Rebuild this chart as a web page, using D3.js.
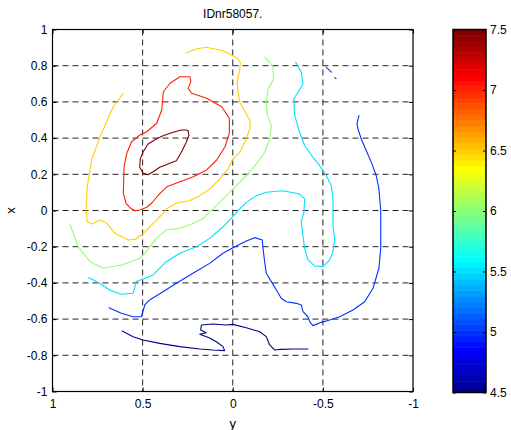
<!DOCTYPE html>
<html>
<head>
<meta charset="utf-8">
<script src="https://cdn.jsdelivr.net/npm/d3@7/dist/d3.min.js"></script>
<style>
  html, body { margin: 0; padding: 0; background: #fff; }
  svg { display: block; }
  text { font-family: "Liberation Sans", Arial, Helvetica, sans-serif; fill: #000; }
</style>
</head>
<body>
<script>
// Chart title and axis labels
const titleText = "IDnr58057.";
const xLabelText = "y";
const yLabelText = "x";

// Tick values
const yAxisTicks = [1, 0.5, 0, -0.5, -1];          // horizontal axis ("y"), reversed
const xAxisTicks = [-1, -0.8, -0.6, -0.4, -0.2, 0, 0.2, 0.4, 0.6, 0.8, 1]; // vertical axis ("x")
const colorTicks = [4.5, 5, 5.5, 6, 6.5, 7, 7.5];

// Contour levels and colour limits
const levels = [4.5, 5, 5.5, 6, 6.5, 7, 7.5];
const colorMin = 4.5, colorMax = 7.5;

// Contour polylines, each point is [y, x]
const contour45 = [
  [0.613,-0.666],[0.553,-0.697],[0.498,-0.715],[0.405,-0.734],[0.294,-0.752],[0.183,-0.765],
  [0.110,-0.771],[0.045,-0.774],[0.054,-0.752],[0.091,-0.725],[0.128,-0.705],[0.183,-0.684],
  [0.147,-0.675],[0.178,-0.660],[0.174,-0.633],[0.110,-0.627],[0.036,-0.633],[-0.001,-0.629],
  [-0.075,-0.648],[-0.150,-0.670],[-0.186,-0.697],[-0.205,-0.743],[-0.233,-0.771],[-0.269,-0.767],
  [-0.334,-0.765],[-0.417,-0.765]
];
const contour5 = [
  [-0.700,0.524],[-0.689,0.478],[-0.695,0.450],[-0.713,0.395],[-0.741,0.330],[-0.769,0.266],
  [-0.796,0.192],[-0.811,0.119],[-0.821,-0.001],[-0.821,-0.209],[-0.811,-0.319],[-0.778,-0.430],
  [-0.732,-0.504],[-0.667,-0.550],[-0.593,-0.587],[-0.538,-0.605],[-0.491,-0.618],[-0.445,-0.636],
  [-0.427,-0.614],[-0.417,-0.587],[-0.390,-0.559],[-0.380,-0.522],[-0.353,-0.513],[-0.297,-0.504],
  [-0.269,-0.485],[-0.242,-0.439],[-0.214,-0.393],[-0.186,-0.347],[-0.177,-0.283],[-0.168,-0.209],
  [-0.164,-0.163],[-0.122,-0.150],[-0.075,-0.169],[-0.001,-0.206],[0.054,-0.236],[0.128,-0.292],
  [0.221,-0.347],[0.313,-0.402],[0.387,-0.449],[0.461,-0.494],[0.488,-0.522],[0.507,-0.587],
  [0.553,-0.587],[0.618,-0.568],[0.687,-0.537]
];
const contour5Bits = [
  [[-0.519,0.791],[-0.533,0.778],[-0.547,0.764]],
  [[-0.566,0.734],[-0.573,0.729]]
];
const contour55 = [
  [-0.349,0.819],[-0.380,0.764],[-0.390,0.699],[-0.362,0.653],[-0.338,0.616],[-0.344,0.524],
  [-0.371,0.432],[-0.399,0.358],[-0.445,0.294],[-0.482,0.248],[-0.519,0.192],[-0.547,0.137],
  [-0.556,0.064],[-0.556,-0.080],[-0.566,-0.163],[-0.556,-0.228],[-0.538,-0.273],[-0.501,-0.310],
  [-0.455,-0.307],[-0.417,-0.273],[-0.399,-0.209],[-0.390,-0.145],[-0.380,-0.062],[-0.395,-0.007],
  [-0.399,0.064],[-0.371,0.091],[-0.279,0.109],[-0.186,0.101],[-0.131,0.082],[-0.075,0.045],
  [-0.029,-0.001],[-0.001,-0.034],[0.054,-0.090],[0.128,-0.154],[0.202,-0.200],[0.294,-0.236],
  [0.369,-0.283],[0.442,-0.356],[0.498,-0.378],[0.535,-0.393],[0.553,-0.457],[0.618,-0.463],
  [0.683,-0.439],[0.738,-0.402],[0.798,-0.371]
];
const contour6 = [
  [-0.177,0.846],[-0.205,0.819],[-0.223,0.791],[-0.227,0.727],[-0.196,0.671],[-0.186,0.598],
  [-0.192,0.524],[-0.214,0.469],[-0.205,0.395],[-0.177,0.322],[-0.131,0.257],[-0.075,0.192],
  [-0.020,0.137],[0.072,0.045],[0.110,0.008],[0.128,-0.007],[0.163,-0.043],[0.228,-0.075],
  [0.293,-0.098],[0.369,-0.108],[0.424,-0.154],[0.481,-0.229],[0.515,-0.264],[0.616,-0.301],
  [0.718,-0.319],[0.792,-0.283],[0.857,-0.200],[0.903,-0.075]
];
const contour65 = [
  [0.258,0.870],[0.202,0.892],[0.147,0.902],[0.054,0.883],[-0.001,0.855],[-0.020,0.846],
  [-0.042,0.819],[-0.039,0.782],[-0.024,0.708],[-0.029,0.653],[-0.039,0.598],[-0.075,0.533],
  [-0.097,0.496],[-0.094,0.450],[-0.075,0.395],[-0.039,0.322],[-0.001,0.285],[0.026,0.229],
  [0.072,0.174],[0.128,0.119],[0.183,0.082],[0.239,0.054],[0.313,0.041],[0.369,0.008],
  [0.385,-0.015],[0.441,-0.071],[0.496,-0.126],[0.542,-0.159],[0.579,-0.163],[0.653,-0.126],
  [0.699,-0.071],[0.736,-0.052],[0.783,-0.075],[0.807,-0.062],[0.814,0.003],[0.807,0.131],
  [0.783,0.279],[0.736,0.408],[0.663,0.573],[0.607,0.648]
];
const contour7 = [
  [0.348,0.703],[0.293,0.739],[0.237,0.739],[0.233,0.712],[0.247,0.675],[0.228,0.648],
  [0.145,0.620],[0.061,0.573],[0.019,0.509],[0.019,0.427],[0.043,0.352],[0.089,0.279],
  [0.145,0.224],[0.219,0.187],[0.293,0.159],[0.366,0.131],[0.404,0.095],[0.450,0.040],
  [0.477,0.018],[0.515,0.003],[0.542,-0.001],[0.566,0.012],[0.592,0.040],[0.607,0.095],
  [0.603,0.242],[0.588,0.316],[0.561,0.380],[0.515,0.417],[0.477,0.435],[0.422,0.482],
  [0.394,0.555],[0.385,0.656],[0.348,0.703]
];
const contour75 = [
  [0.248,0.441],[0.243,0.417],[0.258,0.377],[0.285,0.322],[0.313,0.275],[0.359,0.257],
  [0.405,0.239],[0.442,0.214],[0.470,0.198],[0.498,0.207],[0.516,0.239],[0.513,0.285],
  [0.498,0.322],[0.470,0.367],[0.424,0.395],[0.387,0.413],[0.331,0.432],[0.285,0.445],
  [0.258,0.445],[0.248,0.441]
];

const contourSets = [
  {level: 4.5, lines: [contour45]},
  {level: 5,   lines: [contour5, ...contour5Bits]},
  {level: 5.5, lines: [contour55]},
  {level: 6,   lines: [contour6]},
  {level: 6.5, lines: [contour65]},
  {level: 7,   lines: [contour7]},
  {level: 7.5, lines: [contour75]}
];

// MATLAB-style jet colormap with m entries
function jetMap(m) {
  const n = Math.ceil(m / 4);
  const u = [];
  for (let i = 1; i <= n; i++) u.push(i / n);
  for (let i = 1; i < n; i++) u.push(1);
  for (let i = n; i >= 1; i--) u.push(i / n);
  const off = Math.ceil(n / 2) - (m % 4 === 1 ? 1 : 0);
  const r = new Array(m).fill(0), g = new Array(m).fill(0), b = new Array(m).fill(0);
  u.forEach((val, k) => {
    const gi = off + k, ri = gi + n, bi = gi - n;
    if (gi >= 0 && gi < m) g[gi] = val;
    if (ri >= 0 && ri < m) r[ri] = val;
    if (bi >= 0 && bi < m) b[bi] = val;
  });
  return d3.range(m).map(i => d3.rgb(r[i] * 255, g[i] * 255, b[i] * 255).formatHex());
}
const cmap = jetMap(64);
function levelColor(v) {
  let idx = Math.floor((v - colorMin) / (colorMax - colorMin) * cmap.length);
  idx = Math.max(0, Math.min(cmap.length - 1, idx));
  return cmap[idx];
}

// plain tick text with an ASCII hyphen for negatives
const fmt = d => String(+(+d).toFixed(1));

const W = 511, H = 430;
const plot = {left: 52.5, right: 413, top: 29.5, bottom: 391.5};
const bar = {left: 453, right: 486, top: 29.5, bottom: 392.5};

const svg = d3.select("body").append("svg").attr("width", W).attr("height", H);

const xs = d3.scaleLinear().domain([1, -1]).range([plot.left, plot.right]);
const ys = d3.scaleLinear().domain([-1, 1]).range([plot.bottom, plot.top]);
const cs = d3.scaleLinear().domain([colorMin, colorMax]).range([bar.bottom, bar.top]);

// dashed grid
const grid = svg.append("g").attr("stroke", "#222").attr("stroke-width", 1).attr("stroke-dasharray", "6,4");
yAxisTicks.filter(t => t !== 1 && t !== -1).forEach(t => {
  grid.append("line").attr("x1", xs(t)).attr("x2", xs(t)).attr("y1", plot.top).attr("y2", plot.bottom);
});
xAxisTicks.filter(t => t !== 1 && t !== -1).forEach(t => {
  grid.append("line").attr("x1", plot.left).attr("x2", plot.right).attr("y1", ys(t)).attr("y2", ys(t));
});

// contour lines
const line = d3.line().x(d => xs(d[0])).y(d => ys(d[1])).curve(d3.curveLinear);
const cg = svg.append("g").attr("fill", "none").attr("stroke-width", 1.1)
  .attr("stroke-linejoin", "round").attr("stroke-linecap", "round");
contourSets.forEach(set => {
  set.lines.forEach(pts => {
    cg.append("path").attr("d", line(pts)).attr("stroke", levelColor(set.level));
  });
});

// axes (ticks inside, box around)
const tickLen = 4;
const axisG = svg.append("g");
const bottomAxis = d3.axisBottom(xs).tickValues(yAxisTicks).tickSize(-tickLen).tickPadding(8).tickFormat(fmt);
const leftAxis = d3.axisLeft(ys).tickValues(xAxisTicks).tickSize(-tickLen).tickPadding(5).tickFormat(fmt);
const topAxis = d3.axisTop(xs).tickValues(yAxisTicks).tickSize(-tickLen).tickFormat("");
const rightAxis = d3.axisRight(ys).tickValues(xAxisTicks).tickSize(-tickLen).tickFormat("");

function styleAxis(g) {
  g.select(".domain").remove();
  g.selectAll(".tick line").attr("stroke", "#000");
  g.selectAll(".tick text").attr("font-size", "12px").attr("font-family", null).attr("fill", "#000");
}
axisG.append("g").attr("transform", `translate(0,${plot.bottom})`).call(bottomAxis).call(styleAxis);
axisG.append("g").attr("transform", `translate(${plot.left},0)`).call(leftAxis).call(styleAxis);
axisG.append("g").attr("transform", `translate(0,${plot.top})`).call(topAxis).call(styleAxis);
axisG.append("g").attr("transform", `translate(${plot.right},0)`).call(rightAxis).call(styleAxis);
svg.append("rect").attr("x", plot.left).attr("y", plot.top)
  .attr("width", plot.right - plot.left).attr("height", plot.bottom - plot.top)
  .attr("fill", "none").attr("stroke", "#000").attr("stroke-width", 1.2);

// labels
svg.append("text").attr("x", (plot.left + plot.right) / 2).attr("y", 18)
  .attr("text-anchor", "middle").attr("font-size", "12px").text(titleText);
svg.append("text").attr("x", (plot.left + plot.right) / 2).attr("y", 428)
  .attr("text-anchor", "middle").attr("font-size", "13px").text(xLabelText);
svg.append("text").attr("transform", `translate(15,${(plot.top + plot.bottom) / 2}) rotate(-90)`)
  .attr("text-anchor", "middle").attr("font-size", "13px").text(yLabelText);

// colorbar
const bandH = (bar.bottom - bar.top) / cmap.length;
const cb = svg.append("g");
cmap.forEach((c, i) => {
  cb.append("rect").attr("x", bar.left).attr("width", bar.right - bar.left)
    .attr("y", bar.bottom - (i + 1) * bandH).attr("height", bandH + 0.5).attr("fill", c);
});
const cbAxis = d3.axisRight(cs).tickValues(colorTicks).tickSize(-3).tickPadding(4).tickFormat(fmt);
cb.append("g").attr("transform", `translate(${bar.right},0)`).call(cbAxis).call(styleAxis);
cb.append("g").attr("transform", `translate(${bar.left},0)`)
  .call(d3.axisLeft(cs).tickValues(colorTicks).tickSize(-3).tickFormat("")).call(styleAxis);
cb.append("rect").attr("x", bar.left).attr("y", bar.top)
  .attr("width", bar.right - bar.left).attr("height", bar.bottom - bar.top)
  .attr("fill", "none").attr("stroke", "#000").attr("stroke-width", 1.5);
</script>
</body>
</html>
